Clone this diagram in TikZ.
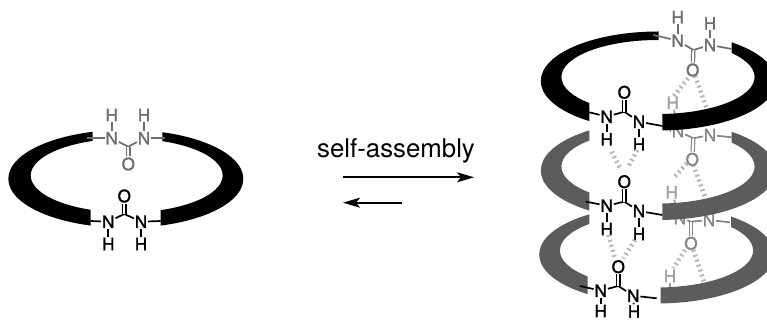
\documentclass[tikz,border=0pt]{standalone}
\usepackage{fontspec}
\setmainfont{TeX Gyre Heros}
\newfontfamily\atomfont[FakeBold=1.5]{TeX Gyre Heros}
\usetikzlibrary{arrows.meta}
\definecolor{ringgray}{HTML}{5C5C5C}
\definecolor{gA}{HTML}{6E6E6E}
\definecolor{gB}{HTML}{858585}
\definecolor{gH}{HTML}{A0A0A0}
\definecolor{dashgray}{HTML}{B4B4B4}
\tikzset{
  atom/.style={inner sep=0.8pt,font=\atomfont\fontsize{17}{18}\selectfont},
  bond/.style={line width=1.7pt},
  dbond/.style={line width=1.2pt,double distance=2pt,double=white},
  hbond/.style={dashgray,line width=4.5pt,dash pattern=on 1.8pt off 3.4pt},
  rxnarrow/.style={line width=1.7pt,-{Stealth[length=17pt,width=10pt,inset=4pt]}}
}
% #1 colour, #2 outer centre, #3 outer rx, #4 outer ry, #5 inner centre, #6 inner rx, #7 inner ry, #8 clip path
\newcommand{\ringpiece}[8]{%
  \begin{scope}
    \clip #8;
    \fill[#1,even odd rule] #2 ellipse [x radius=#3,y radius=#4] #5 ellipse [x radius=#6,y radius=#7];
  \end{scope}}
% #1 prefix, #2 colour, #3 N1, #4 C, #5 O, #6 N2 ; stubs (#1L), (#1R) defined before
\newcommand{\ureacore}[6]{%
  \node[atom,text=#2] (#1N1) at #3 {N};
  \node[atom,text=#2] (#1N2) at #6 {N};
  \node[atom,text=#2] (#1O) at #5 {O};
  \coordinate (#1C) at #4;
  \draw[bond,#2] (#1L) -- (#1N1);
  \draw[bond,#2] (#1N2) -- (#1R);
  \draw[bond,#2,line join=round] (#1N1) -- (#1C) -- (#1N2);
  \draw[dbond,#2] (#1C) -- (#1O);}
% #1 node name, #2 colour, #3 position, #4 parent
\newcommand{\ureaH}[4]{%
  \node[atom,text=#2] (#1) at #3 {H};
  \draw[bond,#2] (#1) -- (#4);}
\begin{document}
\begin{tikzpicture}[x=1pt,y=-1pt]
\useasboundingbox (0,0) rectangle (767,320);
\fill[white] (0,0) rectangle (767,320);

% ---------- left ring
\ringpiece{black}{(125.8,178.8)}{117.5}{49}{(126.7,175.5)}{96}{37}{(0,0)--(92.7,0)--(92.7,178)--(90.7,178)--(90.7,320)--(0,320)--cycle}
\ringpiece{black}{(125.8,178.8)}{117.5}{49}{(126.7,175.5)}{96}{37}{(162.3,0)--(162.3,178)--(160.7,178)--(160.7,320)--(300,320)--(300,0)--cycle}
\coordinate (lgL) at (87.3,138.3);
\coordinate (lgR) at (165,138.3);
\ureacore{lg}{gA}{(111.7,138.3)}{(128.3,146.7)}{(128.3,164)}{(144,138.3)}
\ureaH{lgH1}{gA}{(111.7,115)}{lgN1}
\ureaH{lgH2}{gA}{(144,115)}{lgN2}
\coordinate (lbL) at (90.7,221);
\coordinate (lbR) at (160.7,221);
\ureacore{lb}{black}{(108.3,221.7)}{(124.3,214)}{(124.3,196)}{(141,221.7)}
\ureaH{lbH1}{black}{(108.3,244)}{lbN1}
\ureaH{lbH2}{black}{(141,244)}{lbN2}

% ---------- label and arrows
\node[inner sep=0pt,font=\fontsize{25.8}{27}\selectfont] (lab) at (396,151) {self-assembly};
\coordinate (fwdA) at (342.7,177.3);
\coordinate (fwdB) at (474,177.3);
\coordinate (revA) at (402,202.7);
\coordinate (revB) at (343,202.7);
\draw[rxnarrow] (fwdA) -- (fwdB);
\draw[rxnarrow] (revA) -- (revB);

% ---------- third ring (bottom)
\ringpiece{ringgray}{(656.7,254.5)}{117.5}{49}{(656.5,250.5)}{96.6}{37}{(500,150)--(589.3,150)--(589.3,254)--(587.7,254)--(587.7,320)--(500,320)--cycle}
\ringpiece{ringgray}{(656.7,254.5)}{117.5}{49}{(656.5,250.5)}{96.6}{37}{(731,150)--(731,250)--(660.7,250)--(660.7,320)--(770,320)--(770,150)--cycle}
\node[atom,text=gH] (hC) at (670,276) {H};
\coordinate (hCb) at (670,287);
\draw[bond,gH] (hC) -- (hCb);
\coordinate (d5a) at (685,250); \coordinate (d5b) at (673.3,268.3);
\coordinate (d6a) at (693.3,250); \coordinate (d6b) at (704,281.7);
\draw[hbond] (d5a) -- (d5b);
\draw[hbond] (d6a) -- (d6b);
\coordinate (cL) at (672,218);
\coordinate (cR) at (730,222.3);
\ureacore{c}{gB}{(680,218)}{(691,221.7)}{(691,243.3)}{(709,220)}
\node[atom,text=gH] (hB) at (671.7,192.3) {H};
\draw[bond,gH] (hB) -- (cN1);
\coordinate (d3a) at (686.7,163.3); \coordinate (d3b) at (673.3,178.3);
\coordinate (d4a) at (693.3,165); \coordinate (d4b) at (705,196.7);
\draw[hbond] (d3a) -- (d3b);
\draw[hbond] (d4a) -- (d4b);

% ---------- second ring
\ringpiece{ringgray}{(658.3,170.5)}{117.5}{49.5}{(658,166.5)}{96.6}{37}{(500,100)--(589.3,100)--(589.3,320)--(500,320)--cycle}
\ringpiece{ringgray}{(658.3,170.5)}{117.5}{49.5}{(658,166.5)}{96.6}{37}{(731.7,100)--(731.7,167)--(662.3,167)--(662.3,320)--(770,320)--(770,100)--cycle}
\coordinate (bL) at (670,131);
\coordinate (bR) at (731.7,137.3);
\ureacore{b}{gB}{(678,131)}{(693.3,138.3)}{(692.3,159.3)}{(710,135)}
\node[atom,text=gH] (hA) at (672.7,102.7) {H};
\draw[bond,gH] (hA) -- (bN1);
\coordinate (d1a) at (688,78.3); \coordinate (d1b) at (673.3,96.7);
\coordinate (d2a) at (695,76); \coordinate (d2b) at (706.7,108);
\draw[hbond] (d1a) -- (d1b);
\draw[hbond] (d2a) -- (d2b);

% ---------- top ring
\ringpiece{black}{(658.3,81)}{117.5}{49.5}{(658,77)}{96.6}{37}{(500,0)--(658.7,0)--(658.7,78)--(589.3,78)--(589.3,320)--(500,320)--cycle}
\ringpiece{black}{(658.3,81)}{117.5}{49.5}{(658,77)}{96.6}{37}{(731.7,0)--(731.7,78)--(662.3,78)--(662.3,320)--(770,320)--(770,0)--cycle}
\coordinate (aL) at (653.3,35);
\coordinate (aR) at (731.7,49);
\ureacore{a}{gA}{(677.7,40.7)}{(693.3,50)}{(692.7,70)}{(710,45)}
\ureaH{aH1}{gA}{(677.7,17.3)}{aN1}
\ureaH{aH2}{gA}{(710,23.3)}{aN2}

% ---------- front ureas
\coordinate (fL) at (589.3,112.3);
\coordinate (fR) at (662.3,126);
\ureacore{f}{black}{(606.7,116.7)}{(624.3,111.7)}{(624.3,92.3)}{(639,121.7)}
\ureaH{fH1}{black}{(606.7,139.3)}{fN1}
\ureaH{fH2}{black}{(639,144.3)}{fN2}
\coordinate (gL) at (586,201.7);
\coordinate (gR) at (662.3,215);
\ureacore{g}{black}{(606.7,205.7)}{(624.3,201.7)}{(624.3,181.7)}{(639,211)}
\ureaH{gH1}{black}{(606.7,229)}{gN1}
\ureaH{gH2}{black}{(639,234)}{gN2}
\coordinate (kL) at (580,286);
\coordinate (kR) at (656.7,298.3);
\ureacore{k}{black}{(600.7,290.7)}{(618.3,286)}{(618.3,266.7)}{(633.3,295.7)}
\ureaH{kH1}{black}{(600.7,311)}{kN1}
\ureaH{kH2}{black}{(634,311.5)}{kN2}
% hydrogen bonds between front ureas
\coordinate (e1a) at (611.7,151.7); \coordinate (e1b) at (620,168.3);
\coordinate (e2a) at (637.3,150); \coordinate (e2b) at (628.3,166.7);
\coordinate (e3a) at (608.3,235); \coordinate (e3b) at (615,258.3);
\coordinate (e4a) at (635,240); \coordinate (e4b) at (623.3,258.3);
\draw[hbond] (e1a) -- (e1b);
\draw[hbond] (e2a) -- (e2b);
\draw[hbond] (e3a) -- (e3b);
\draw[hbond] (e4a) -- (e4b);
\end{tikzpicture}
\end{document}
